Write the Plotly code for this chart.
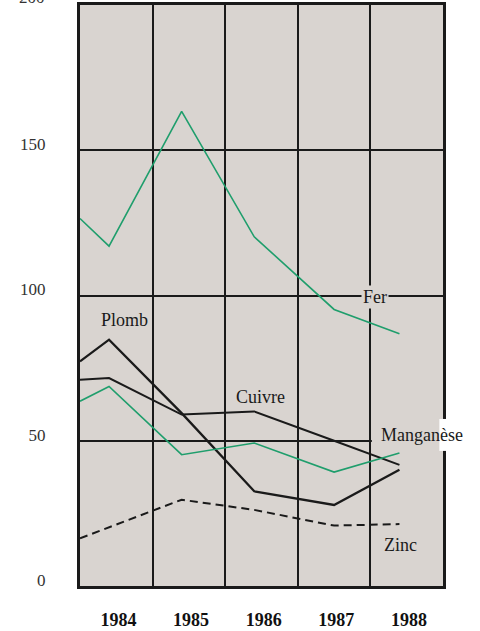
import plotly.graph_objects as go

# ---- data ----
periods = [1983.6, 1984.0, 1985.0, 1986.0, 1987.1, 1988.0]
fer = [126.5, 117.0, 163.4, 120.2, 95.2, 86.8]
plomb = [77.3, 84.8, 59.5, 32.6, 27.9, 40.0]
cuivre = [71.0, 71.6, 59.0, 60.1, 50.0, 41.7]
manganese = [63.6, 68.7, 45.2, 49.2, 39.2, 45.8]
zinc = [16.4, 20.2, 29.7, 26.2, 20.8, 21.3]
year_labels = ["1984", "1985", "1986", "1987", "1988"]
y_ticks = [0, 50, 100, 150, 200]
series_names = ["Fer", "Plomb", "Cuivre", "Manganèse", "Zinc"]

# ---- styles ----
GREEN = "#1f9e6c"
BLACK = "#1a1a1a"
PLOT_BG = "#d9d4d0"
SERIF = "Liberation Serif, Times New Roman, serif"

styles = {
    "Fer": dict(color=GREEN, width=1.6, dash="solid"),
    "Plomb": dict(color=BLACK, width=2.3, dash="solid"),
    "Cuivre": dict(color=BLACK, width=2.0, dash="solid"),
    "Manganèse": dict(color=GREEN, width=1.6, dash="solid"),
    "Zinc": dict(color=BLACK, width=2.0, dash="8px,5px"),
}
values = {"Fer": fer, "Plomb": plomb, "Cuivre": cuivre,
          "Manganèse": manganese, "Zinc": zinc}
# label anchor positions (x in years, y in values)
label_pos = {
    "Fer": (1987.66, 99.6),
    "Plomb": (1984.21, 91.7),
    "Cuivre": (1986.08, 65.2),
    "Manganèse": (1988.31, 52.1),
    "Zinc": (1988.01, 14.1),
}
label_bg = {"Fer": PLOT_BG}

fig = go.Figure()
for name in series_names:
    fig.add_trace(go.Scatter(
        x=periods, y=values[name], mode="lines", name=name,
        line=styles[name], showlegend=False, hoverinfo="skip"))

# gaps in the printed grid / frame around the "Manganèse" label
fig.add_shape(type="rect", xref="x", yref="y", x0=1987.62, x1=1988.6,
              y0=48.8, y1=51.2, fillcolor=PLOT_BG, line_width=0, layer="above")
fig.add_shape(type="rect", xref="paper", yref="y", x0=0.99, x1=1.03,
              y0=46.5, y1=57.5, fillcolor="white", line_width=0, layer="above")

for name in series_names:
    x, y = label_pos[name]
    fig.add_annotation(
        x=x, y=y, text=name, showarrow=False,
        font=dict(family=SERIF, size=18, color="#1a1a1a"),
        bgcolor=label_bg.get(name, "rgba(0,0,0,0)"), borderpad=1)

# the top tick label sits partly above the page edge, as in the scan
fig.add_annotation(
    x=-0.091, xref="paper", xanchor="right",
    y=y_ticks[-1], yref="y", yanchor="middle", yshift=8,
    text=str(y_ticks[-1]), showarrow=False,
    font=dict(family=SERIF, size=17, color="#333333"))

label_offset = 0.13
fig.update_layout(
    width=480, height=631,
    margin=dict(l=80, r=37, t=5, b=45),
    paper_bgcolor="white",
    plot_bgcolor=PLOT_BG,
    xaxis=dict(
        range=[1983.6, 1988.6],
        automargin=False,
        tickmode="array",
        tickvals=[int(v) + label_offset for v in year_labels],
        ticktext=year_labels,
        showgrid=False,
        zeroline=False,
        showline=True, linecolor=BLACK, linewidth=3, mirror=True,
        ticks="",
        ticklabelstandoff=15,
        tickfont=dict(family=SERIF, size=18, color="#111111", weight="bold"),
        minor=dict(tick0=1983.6, dtick=1, showgrid=True,
                   gridcolor=BLACK, gridwidth=2, ticks=""),
    ),
    yaxis=dict(
        range=[0, 200],
        automargin=False,
        tickmode="array",
        tickvals=y_ticks[:-1],
        ticktext=[str(v) for v in y_ticks[:-1]],
        showgrid=True, gridcolor=BLACK, gridwidth=2,
        zeroline=False,
        showline=True, linecolor=BLACK, linewidth=3, mirror=True,
        ticks="",
        ticklabelstandoff=28,
        ticklabelshift=-6,
        tickfont=dict(family=SERIF, size=17, color="#333333"),
    ),
)

fig.write_html("out.html", config={"displayModeBar": False},
               post_script="document.body.style.margin='0';")
